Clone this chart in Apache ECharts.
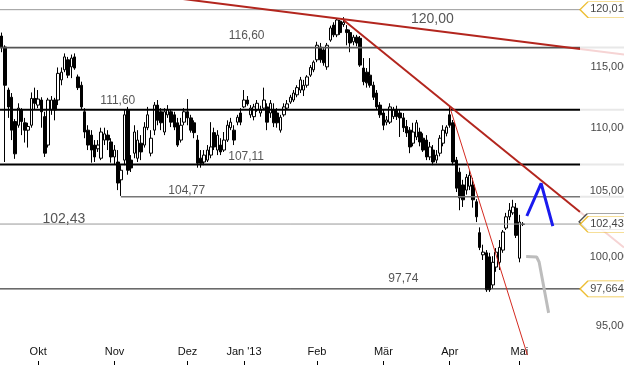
<!DOCTYPE html>
<html><head><meta charset="utf-8">
<script src="https://cdn.jsdelivr.net/npm/echarts@6/dist/echarts.min.js"></script>
<style>html,body{margin:0;padding:0;background:#fff}#c{width:624px;height:365px}</style>
</head><body><div id="c"></div>
<script>
// ---- candle data, one entry per trading day from 2012-09-14 ----
const opens=[117.7,116.75,113.1,112.5,110.5,110.2,111.45,110.4,109.8,110.2,112.4,111.85,
112.27,110.9,108.6,111.45,112.27,112.27,113.95,114.8,115.65,115.05,115.9,114.2,113.5,111.3,109.8,109.4,108.6,108.3,107.55,109.0,109.4,108.85,
107.65,107.25,105.85,107.4,111.45,107.4,107.95,107.55,108.75,108.6,110.0,107.95,109.8,111.85,111.3,109.65,111.05,111.3,111.05,110.4,109.0,110.45,
111.3,110.8,110.4,109.0,107.55,107.25,107.4,107.8,109.6,108.2,108.6,108.2,109.0,110.0,109.8,110.45,111.2,
111.7,112.27,111.05,110.9,111.45,111.2,111.6,111.7,111.2,111.45,111.2,109.8,111.05,111.6,112.1,112.27,112.7,113.1,113.1,113.5,114.35,114.8,
115.65,116.75,116.5,115.05,117.35,118.65,117.8,119.0,118.7,118.25,118.0,117.2,117.6,117.5,114.95,114.6,114.35,113.5,112.85,111.85,
111.2,110.45,110.45,110.9,111.45,111.2,110.8,110.1,109.8,108.75,109.25,109.65,109.15,109.0,107.65,108.2,107.4,107.95,108.75,109.55,
111.05,110.4,107.4,106.45,105.45,105.05,105.35,105.45,104.15,101.8,100.15,100.3,100.0,97.95,99.25,99.6,100.5,102.15,103.0,103.3,103.65,
99.9,102.45];
const closes=[116.75,113.5,111.7,109.8,107.9,111.6,110.5,109.8,110.1,112.4,112.0,112.35,
111.3,107.95,112.27,112.27,111.45,114.5,114.6,115.9,114.35,115.8,114.95,113.3,111.7,109.65,108.6,108.2,107.65,108.6,109.65,109.5,109.0,107.65,
108.2,105.6,106.6,111.05,106.6,106.78,109.65,109.0,108.05,110.05,111.05,109.15,111.85,110.6,110.4,111.3,111.45,110.45,110.05,108.6,110.2,111.3,
110.8,109.8,109.6,107.15,107.15,107.8,108.2,108.45,108.45,109.4,108.05,109.0,110.2,110.45,109.0,110.85,110.45,
112.27,111.95,111.6,111.7,112.0,111.45,112.27,110.45,112.0,110.4,110.4,110.85,111.7,111.95,112.5,112.85,113.3,113.95,113.5,114.2,115.0,115.45,
116.9,115.65,115.4,116.9,118.4,117.8,119.1,118.0,118.9,118.0,117.1,117.6,117.1,115.2,113.8,113.7,113.5,112.5,111.7,111.05,
110.2,110.63,111.7,111.45,110.9,110.8,110.0,109.57,108.45,109.65,110.4,108.85,108.2,107.65,108.45,107.25,107.8,109.15,109.8,110.05,
110.2,107.25,105.2,104.45,104.3,106.05,106.2,104.3,103.0,100.7,100.35,97.6,97.6,99.6,100.35,100.7,101.85,103.0,103.5,103.75,101.6,
102.6,102.43];
const lows=[116.3,107.25,110.8,109.0,107.5,110.0,109.4,108.8,108.4,110.0,111.45,111.6,
110.0,107.65,108.4,111.05,110.6,111.85,113.5,114.6,114.1,114.1,114.8,113.1,111.45,109.15,108.2,107.2,107.25,108.05,107.4,108.6,108.2,107.2,
107.05,105.05,104.6,107.0,106.25,106.46,107.55,107.25,107.4,108.4,109.8,107.7,109.4,110.2,109.8,109.4,110.8,110.05,109.8,108.45,108.8,110.2,
110.2,109.6,109.15,106.8,106.8,107.0,107.25,107.55,108.2,107.8,107.8,108.05,108.85,109.8,108.6,110.2,110.2,
111.6,111.8,110.8,110.6,111.3,110.9,111.45,109.8,110.8,110.05,110.0,109.6,110.9,111.45,111.95,112.1,112.5,112.85,112.6,113.3,114.2,114.6,
115.45,115.4,115.15,114.8,117.2,117.6,117.6,117.8,118.5,116.9,116.3,116.9,116.8,115.05,113.5,113.3,113.3,112.27,111.45,110.8,
109.8,110.2,110.3,110.7,110.63,109.25,109.65,109.25,107.95,108.5,109.0,108.5,108.05,107.4,107.4,107.0,107.15,107.7,108.5,109.3,
110.0,107.0,104.9,103.5,103.75,104.7,105.05,103.7,102.6,100.5,99.77,97.45,97.45,97.7,98.9,99.04,100.3,102.0,102.75,103.15,101.4,
99.6,102.3];
const highs=[118.0,116.9,113.3,112.85,110.7,112.0,111.6,110.8,110.4,112.9,113.3,113.1,
112.5,111.3,112.45,112.6,112.45,115.0,115.0,116.2,115.9,116.1,116.2,114.4,113.8,111.6,110.2,109.8,109.0,109.0,110.0,110.0,109.8,109.15,
108.6,108.2,107.0,111.45,111.7,107.8,110.2,109.8,109.4,110.45,111.7,109.8,112.1,112.27,111.6,111.6,111.85,111.5,111.3,110.8,110.8,111.6,
112.35,111.05,110.6,109.4,108.2,108.2,108.6,110.45,110.0,109.8,109.15,109.65,110.6,110.8,110.2,111.05,111.6,
113.1,112.6,111.85,111.95,112.27,111.8,113.3,112.0,112.27,112.0,111.6,111.05,112.0,112.27,112.7,113.1,113.5,114.2,113.95,114.35,115.2,115.6,
117.2,117.1,116.65,117.1,118.6,118.9,119.25,119.1,119.35,118.65,118.25,117.8,117.8,117.7,115.8,114.95,115.8,113.8,113.1,112.1,
111.45,110.95,112.0,111.7,111.8,111.5,111.2,110.63,110.05,110.4,110.63,110.0,109.55,109.4,108.85,108.6,108.2,109.4,110.2,110.2,
111.7,110.63,107.65,106.8,105.85,106.3,106.6,106.0,104.35,102.2,100.9,100.5,100.3,100.05,100.65,101.25,102.0,103.3,104.05,104.3,104.05,
103.15,102.6];

// ---- calendar ----
const firstDay=[2012,8,14];          // 14 Sep 2012
const slotCount=188;                 // trading-day slots across the picture
const lastTickSlot=174;              // month ticks shown up to here
const holidays=['2012-12-24','2012-12-25','2012-12-26','2012-12-31','2013-01-01','2013-03-29','2013-04-01','2013-05-01'];
const monthNames=['Jan \'13','Feb','Mär','Apr','Mai','Jun','Jul','Aug','Sep','Okt','Nov','Dez'];

// ---- horizontal levels ----
const levelValues=[120.01,116.7,111.47,107.05,104.54,102.45,97.664];
const levelStartSlot=[-0.5,-0.5,-0.5,-0.5,35.9,-0.5,-0.5];
const plotEndSlot=174.27, axisEndSlot=187.5;
const levelFaded=[false,true,true,true,true,false,false];

// ---- annotations ----
const noteTexts=['120,00','116,60','111,60','107,11','104,77','102,43','97,74'];
const notePoints=[[129.75,119.19],[73.8,117.75],[35.0,112.19],[73.65,107.65],[55.75,105.02],[18.75,102.83],[121.03,98.38]];
const noteSizes=[14,12,12,12,12,14,12];

const yTicks=[115,110,105,100,95];
const yTickTexts=['115,000','110,000','105,000','100,000','95,000'];
const yTickSlot=189.3;
const tagValues=[120.01,102.43,97.664];
const tagTexts=['120,010','102,430','97,664'];
const tagSlot=181.78;

// ---- trend lines / projections [slot, price] ----
const trendLong=[[52.74,121.03],[174.27,116.58]];
const trendLongExt=[[174.27,116.58],[187.5,116.1]];
const trendMid=[[102.97,119.1],[174.27,103.37]];
const trendMidExt=[[174.27,103.37],[187.5,100.69]];
const trendSteep=[[135.0,111.7],[158.4,93.01]];
const blueProjection=[[158.23,103.06],[162.53,105.58],[166.05,102.30]];
const greyProjection=[[158.02,100.03],[161.18,99.99],[161.93,99.62],[164.79,95.95]];

// build categories
const cats=[];
{
  let d=new Date(Date.UTC(firstDay[0],firstDay[1],firstDay[2]));
  while(cats.length<slotCount){
    const s=d.toISOString().slice(0,10);
    const wd=d.getUTCDay();
    if(wd!==0&&wd!==6&&holidays.indexOf(s)<0) cats.push(s);
    d=new Date(d.getTime()+86400000);
  }
}
const monthStart=cats.map((c,i)=>i>0&&i<=lastTickSlot&&c.slice(5,7)!==cats[i-1].slice(5,7));
const candles=opens.map((o,i)=>[o,closes[i],lows[i],highs[i]]);

const FONT='"Liberation Sans", Arial, sans-serif';
const series=[];
series.push({type:'candlestick',data:candles,barWidth:3,silent:true,
  itemStyle:{color:'#fff',color0:'#000',borderColor:'#000',borderColor0:'#000',borderWidth:1}});

const levelColors=['#999','#555','#000','#000','#777','#999','#111'];
const levelWidths=[1,1.6,2,2,1.5,1,1];
levelValues.forEach((v,k)=>{
  series.push({type:'line',xAxisIndex:1,silent:true,symbol:'none',z:3,
    data:[[levelStartSlot[k],v],[plotEndSlot,v]],
    lineStyle:{color:levelColors[k],width:levelWidths[k]}});
  if(levelFaded[k]) series.push({type:'line',xAxisIndex:1,silent:true,symbol:'none',z:3,
    data:[[plotEndSlot,v],[axisEndSlot,v]],lineStyle:{color:'#e8e8e8',width:2}});
});
function addLine(d,color,width,z){series.push({type:'line',xAxisIndex:1,silent:true,symbol:'none',z:z||4,data:d,lineStyle:{color:color,width:width}});}
addLine(trendLong,'#b3261e',2);
addLine(trendLongExt,'#f6d4d4',2);
addLine(trendMid,'#b3261e',2);
addLine(trendMidExt,'#f6d4d4',2);
addLine(trendSteep,'#d42a20',1);
addLine(blueProjection,'#1a1aee',3,5);
addLine(greyProjection,'#bdbdbd',3,5);

series.push({type:'scatter',xAxisIndex:1,silent:true,symbolSize:1,z:6,itemStyle:{color:'rgba(0,0,0,0)'},
  data:notePoints.map((p,k)=>({value:p,label:{formatter:noteTexts[k],fontSize:noteSizes[k]}})),
  label:{show:true,position:'inside',align:'center',verticalAlign:'middle',color:'#2b2b2b',fontFamily:FONT}});
series.push({type:'scatter',xAxisIndex:1,silent:true,symbolSize:1,z:6,clip:false,itemStyle:{color:'rgba(0,0,0,0)'},
  data:yTicks.map((v,k)=>({value:[yTickSlot,v],label:{formatter:yTickTexts[k]}})),
  label:{show:true,position:'left',distance:0,align:'right',verticalAlign:'middle',color:'#111',fontSize:11,fontFamily:FONT}});
const tagPath='path://M0,8L8,0L50,0L50,16L8,16Z';
series.push({type:'scatter',xAxisIndex:1,silent:true,clip:false,z:6,symbol:tagPath,symbolSize:[50,16],symbolOffset:[-1,-2.5],
  itemStyle:{color:'#fff',borderColor:'#222',borderWidth:1},data:[[tagSlot,tagValues[1]]]});
series.push({type:'scatter',xAxisIndex:1,silent:true,clip:false,z:7,symbol:tagPath,symbolSize:[50,16],
  itemStyle:{color:'#fff',borderColor:'#e8ae00',borderWidth:1},
  data:tagValues.map((v,k)=>({value:[tagSlot,v],label:{formatter:tagTexts[k]}})),
  label:{show:true,position:[11,8],align:'left',verticalAlign:'middle',color:'#111',fontSize:11,fontFamily:FONT}});

const chart=echarts.init(document.getElementById('c'),null,{renderer:'canvas'});
chart.setOption({
  animation:false,
  textStyle:{fontFamily:FONT},
  grid:{left:-1,right:0,top:0,bottom:0,containLabel:false},
  xAxis:[
    {type:'category',data:cats,boundaryGap:true,
     axisLine:{show:false},splitLine:{show:false},
     axisTick:{show:true,inside:true,length:4,alignWithLabel:true,interval:(i)=>monthStart[i],lineStyle:{color:'#000'}},
     axisLabel:{show:true,inside:true,margin:8,fontSize:11,color:'#111',interval:(i)=>monthStart[i],
       formatter:(v)=>monthNames[parseInt(v.slice(5,7),10)-1]}},
    {type:'value',min:-0.5,max:axisEndSlot,show:false}
  ],
  yAxis:{type:'log',logBase:10,min:92.33,max:120.87,show:false},
  series:series
});
</script></body></html>
